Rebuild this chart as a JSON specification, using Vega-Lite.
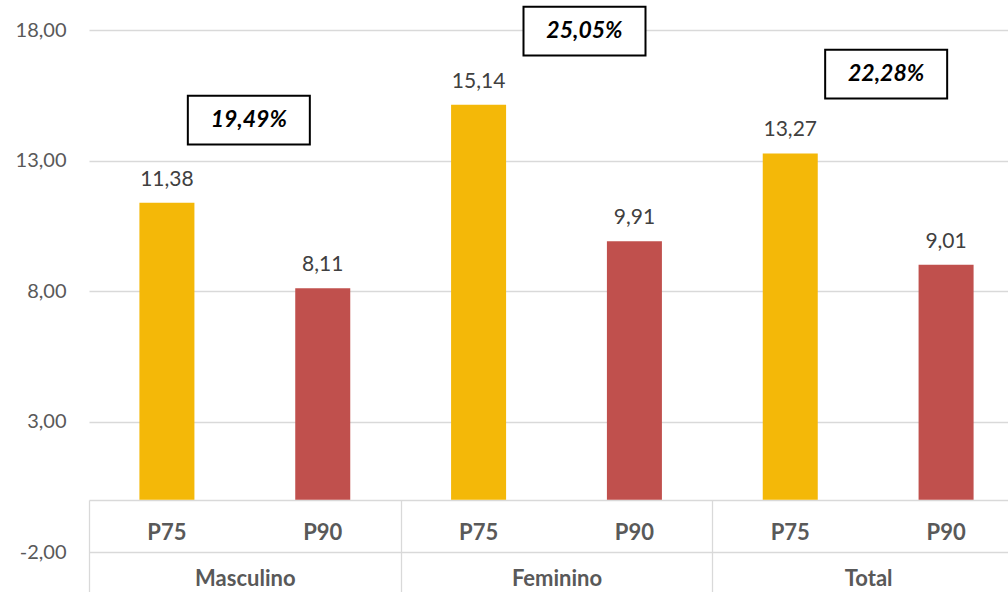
{
  "$schema": "https://vega.github.io/schema/vega-lite/v6.json",
  "width": 919,
  "height": 522,
  "autosize": {"type": "none"},
  "padding": {"left": 89, "top": 30, "right": 0, "bottom": 40},
  "background": "white",
  "config": {
    "view": {"stroke": null},
    "font": "Lato",
    "locale": {"number": {"decimal": ",", "thousands": ".", "grouping": [3], "currency": ["", ""], "minus": "-"}}
  },
  "data": {
    "values": [
      {"cat": "Masculino P75", "group": "Masculino", "p": "P75", "value": 11.38},
      {"cat": "Masculino P90", "group": "Masculino", "p": "P90", "value": 8.11},
      {"cat": "Feminino P75", "group": "Feminino", "p": "P75", "value": 15.14},
      {"cat": "Feminino P90", "group": "Feminino", "p": "P90", "value": 9.91},
      {"cat": "Total P75", "group": "Total", "p": "P75", "value": 13.27},
      {"cat": "Total P90", "group": "Total", "p": "P90", "value": 9.01}
    ]
  },
  "resolve": {"scale": {"x": "independent"}, "axis": {"x": "independent"}},
  "layer": [
    {
      "encoding": {
        "x": {
          "field": "cat", "type": "nominal", "sort": null,
          "scale": {"range": [0, 935], "paddingInner": 0.647, "paddingOuter": 0.3235},
          "axis": {
            "orient": "bottom", "offset": -52, "title": null, "grid": false,
            "labelExpr": "split(datum.label, ' ')[1]", "labelAngle": 0,
            "ticks": false, "domainColor": "#d9d9d9", "domainWidth": 1.3,
            "labelFont": "Lato", "labelFontSize": 22, "labelFontWeight": "bold",
            "labelColor": "#595959", "labelPadding": 32, "labelBaseline": "middle"
          }
        },
        "y": {
          "field": "value", "type": "quantitative",
          "scale": {"domain": [-2, 18], "nice": false, "zero": false},
          "axis": {
            "title": null, "values": [-2, 3, 8, 13, 18], "format": ".2f",
            "domain": false, "ticks": false, "grid": true,
            "gridColor": "#d9d9d9", "gridWidth": 1.3,
            "labelFont": "Lato", "labelFontSize": 20, "labelColor": "#595959",
            "labelPadding": 23
          }
        }
      },
      "layer": [
        {
          "mark": {"type": "bar"},
          "encoding": {
            "y2": {"datum": 0},
            "color": {"field": "p", "type": "nominal", "scale": {"domain": ["P75", "P90"], "range": ["#F4B808", "#C0504D"]}, "legend": null}
          }
        },
        {
          "mark": {"type": "text", "dy": -17, "baseline": "alphabetic", "font": "Lato", "fontSize": 21, "color": "#404040"},
          "encoding": {
            "text": {"field": "value", "type": "quantitative", "format": ".2f"}
          }
        }
      ]
    },
    {
      "data": {
        "values": [
          {"group": "Masculino", "gap": "19,49%"},
          {"group": "Feminino", "gap": "25,05%"},
          {"group": "Total", "gap": "22,28%"}
        ]
      },
      "encoding": {
        "x": {
          "field": "group", "type": "nominal", "sort": null,
          "scale": {"domain": ["Masculino", "Feminino", "Total"], "range": [0, 935], "paddingInner": 0, "paddingOuter": 0},
          "axis": {
            "orient": "bottom", "offset": -52, "title": null, "grid": false,
            "domain": false, "ticks": true, "tickBand": "extent", "tickSize": 92,
            "tickColor": "#d9d9d9", "tickWidth": 1.3, "labelAngle": 0,
            "labelFont": "Lato", "labelFontSize": 22, "labelFontWeight": "bold",
            "labelColor": "#595959", "labelPadding": -14, "labelBaseline": "middle"
          }
        }
      },
      "layer": [
        {
          "transform": [{"filter": "datum.group == 'Masculino'"}],
          "encoding": {"y": {"datum": 14.55, "type": "quantitative", "scale": {"domain": [-2, 18], "nice": false, "zero": false}}},
          "layer": [
            {"mark": {"type": "point", "shape": "M-1,-0.4H1V0.4H-1Z", "size": 14884, "filled": true, "fill": "white", "stroke": "black", "strokeWidth": 2, "opacity": 1, "xOffset": 4}},
            {"mark": {"type": "text", "font": "Lato", "fontStyle": "italic", "fontWeight": "bold", "fontSize": 23, "color": "black", "baseline": "middle", "xOffset": 4}, "encoding": {"text": {"field": "gap"}}}
          ]
        },
        {
          "transform": [{"filter": "datum.group == 'Feminino'"}],
          "encoding": {"y": {"datum": 17.96, "type": "quantitative", "scale": {"domain": [-2, 18], "nice": false, "zero": false}}},
          "layer": [
            {"mark": {"type": "point", "shape": "M-1,-0.4H1V0.4H-1Z", "size": 14884, "filled": true, "fill": "white", "stroke": "black", "strokeWidth": 2, "opacity": 1, "xOffset": 28}},
            {"mark": {"type": "text", "font": "Lato", "fontStyle": "italic", "fontWeight": "bold", "fontSize": 23, "color": "black", "baseline": "middle", "xOffset": 28}, "encoding": {"text": {"field": "gap"}}}
          ]
        },
        {
          "transform": [{"filter": "datum.group == 'Total'"}],
          "encoding": {"y": {"datum": 16.31, "type": "quantitative", "scale": {"domain": [-2, 18], "nice": false, "zero": false}}},
          "layer": [
            {"mark": {"type": "point", "shape": "M-1,-0.4H1V0.4H-1Z", "size": 14884, "filled": true, "fill": "white", "stroke": "black", "strokeWidth": 2, "opacity": 1, "xOffset": 18}},
            {"mark": {"type": "text", "font": "Lato", "fontStyle": "italic", "fontWeight": "bold", "fontSize": 23, "color": "black", "baseline": "middle", "xOffset": 18}, "encoding": {"text": {"field": "gap"}}}
          ]
        }
      ]
    }
  ]
}
